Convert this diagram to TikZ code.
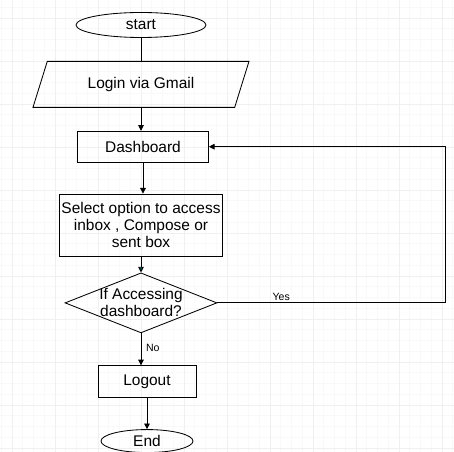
\documentclass[tikz,border=0pt]{standalone}
\usepackage{fontspec}
\setmainfont{Liberation Sans}
\usepackage{tikz}
\usetikzlibrary{arrows.meta,positioning,shapes.geometric}

\begin{document}
\begin{tikzpicture}[node distance=0.6cm, every node/.style={font=\fontsize{11}{12}\selectfont, align=center},
  box/.style={draw, rectangle, semithick},
  flow/.style={-{Triangle[length=4pt,width=4pt]}, semithick}]
  \useasboundingbox (-3.525,0.625) rectangle (7.825,-10.675);

  % background grid
  \begin{scope}[shift={(-3.225,0.175)}]
    \draw[gray!5, step=0.26875cm] (-0.3,-10.85) grid (11.05,0.45);
    \draw[gray!12, step=1.075cm] (-0.3,-10.85) grid (11.05,0.45);
  \end{scope}

  % nodes
  \node[draw, ellipse, semithick, minimum width=3.25cm, minimum height=0.625cm, inner sep=0pt] (start) at (0,0) {start};
  \node[draw, trapezium, semithick, trapezium left angle=59, trapezium right angle=121, trapezium stretches body, minimum width=5.4cm, minimum height=1.15cm, below=0.575cm of start] (login) {Login via Gmail};
  \node[box, minimum width=3.275cm, minimum height=0.775cm, below=0.575cm of login, xshift=0.05cm] (dash) {Dashboard};
  \node[box, minimum width=4.075cm, minimum height=1.55cm, inner sep=0pt, below=0.775cm of dash, xshift=-0.05cm] (select) {Select option to access\\inbox , Compose or\\sent box};
  \node[draw, diamond, semithick, aspect=2.53, minimum width=3.8cm, minimum height=1.5cm, inner sep=-1pt, below=0.4cm of select] (decide) {If Accessing\\dashboard?};
  \node[box, minimum width=2.45cm, minimum height=0.8cm, below=0.8cm of decide, xshift=0.15cm] (logout) {Logout};
  \node[draw, ellipse, semithick, minimum width=2.3cm, minimum height=0.575cm, inner sep=0pt, below=0.775cm of logout] (end) {End};

  % arrows
  \draw[semithick] (start.south) -- (login.north);
  \draw[flow] (login.south) -- (login.south |- dash.north);
  \draw[flow] (dash.south) -- (dash.south |- select.north);
  \draw[flow, -{Triangle[length=4pt,width=4pt,fill=teal!60!black]}] (select.south) -- (decide.north);
  \draw[flow] (decide.south) -- node[pos=0.45, right, font=\fontsize{7.5}{9}\selectfont]{No} (decide.south |- logout.north);
  \draw[flow] (logout.south) -- (end.north);
  \draw[flow] (decide.east) -- node[pos=0.28, above, inner sep=1pt, font=\fontsize{7.5}{9}\selectfont]{Yes} ++(5.7,0) |- (dash.east);
\end{tikzpicture}
\end{document}
